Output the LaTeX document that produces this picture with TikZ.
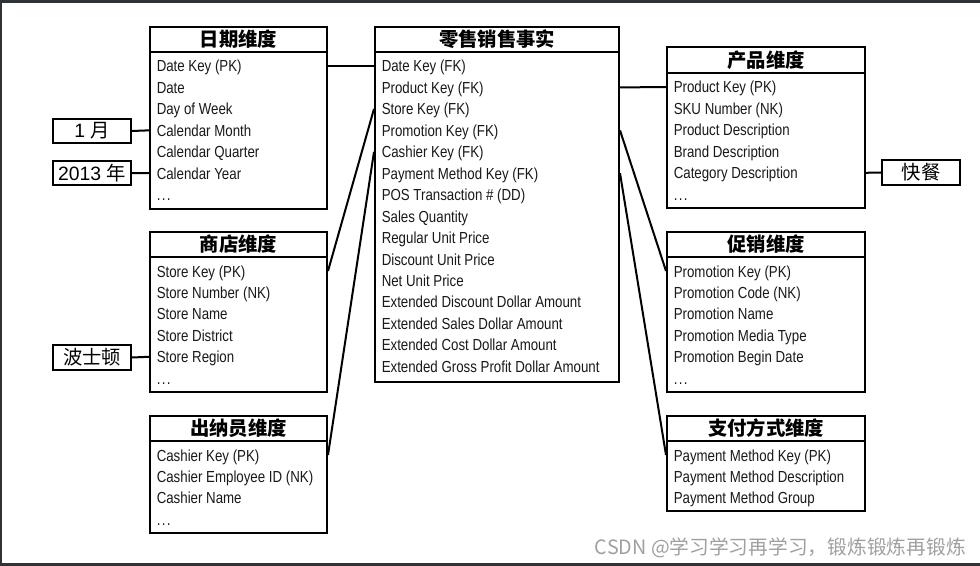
\documentclass[tikz,border=0pt]{standalone}
\usepackage{fontspec}
\setmainfont{Liberation Sans}
\newfontfamily\rowfam[FakeStretch=0.83]{Liberation Sans}
\newfontfamily\cjk{Noto Sans CJK SC}
\definecolor{framecol}{RGB}{47,51,56}
\definecolor{wmcol}{RGB}{160,160,160}
\newcommand\mytbl[8]{%
  \node[tbox, ttl, minimum width={(#3-#2)*0.75pt}, minimum height={(#5-#4)*0.75pt}] (#1-t) at (#2,#4) {#7};
  \node[tbox, minimum width={(#3-#2)*0.75pt}, minimum height={(#6-#5)*0.75pt}] (#1) at (#2,#5) {};
  \foreach \r [count=\i] in {#8} {
    \node[rowtxt] (#1-r\i) at ({#2+7.5},{#5+21+(\i-1)*21.45}) {\r};
    \coordinate (#1-c\i) at ({#2},{#5+15+(\i-1)*21.45});
  }%
}
\newcommand\dts{.\kern1pt.\kern1pt.}
\begin{document}
\begin{tikzpicture}[x=0.75pt,y=-0.75pt,
  tbox/.style={draw, line width=1.5pt, inner sep=0pt, anchor=north west},
  rowtxt/.style={anchor=base west, inner sep=0pt, text=black!90, font=\rowfam\fontsize{12}{14}\selectfont},
  ttl/.style={font=\cjk\bfseries\fontsize{14.5}{16}\selectfont},
  lbl/.style={draw, line width=1.5pt, inner sep=0pt, minimum width=58.5pt, minimum height=18.5pt, font=\fontsize{14.5}{16}\selectfont},
  conn/.style={line width=1.5pt},
  wm/.style={text=wmcol, inner sep=0pt, font=\cjk\fontsize{14.8}{16}\selectfont}]
\useasboundingbox (0,0) rectangle (980,566);
\fill[framecol] (0,0) rectangle (980,566);
\fill[white] (2,3) rectangle (980,563);

\mytbl{date}{149}{326}{26}{51}{208}{日期维度}{Date Key (PK),Date,Day of Week,Calendar Month,Calendar Quarter,Calendar Year,\dts}
\mytbl{store}{149}{326}{231}{256}{391}{商店维度}{Store Key (PK),Store Number (NK),Store Name,Store District,Store Region,\dts}
\mytbl{cashier}{149}{326}{415}{440}{532}{出纳员维度}{Cashier Key (PK),Cashier Employee ID (NK),Cashier Name,\dts}
\mytbl{fact}{374}{618}{26}{51}{381}{零售销售事实}{Date Key (FK),Product Key (FK),Store Key (FK),Promotion Key (FK),Cashier Key (FK),Payment Method Key (FK),POS Transaction \# (DD),Sales Quantity,Regular Unit Price,Discount Unit Price,Net Unit Price,Extended Discount Dollar Amount,Extended Sales Dollar Amount,Extended Cost Dollar Amount,Extended Gross Profit Dollar Amount}
\mytbl{product}{666}{864}{46}{72}{207}{产品维度}{Product Key (PK),SKU Number (NK),Product Description,Brand Description,Category Description,\dts}
\mytbl{promo}{666}{864}{231}{256}{391}{促销维度}{Promotion Key (PK),Promotion Code (NK),Promotion Name,Promotion Media Type,Promotion Begin Date,\dts}
\mytbl{pay}{666}{864}{415}{440}{510}{支付方式维度}{Payment Method Key (PK),Payment Method Description,Payment Method Group}

\node[lbl] (month) at (92,131) {1 {\cjk 月}};
\node[lbl] (year) at (92,173) {2013 {\cjk 年}};
\node[lbl] (boston) at (92,357.5) {\cjk 波士顿};
\node[lbl] (fast) at (921,172.5) {\cjk 快餐};

\draw[conn] (date.east |- date-c1) -- (fact.west |- fact-c1);
\draw[conn] (fact.west |- fact-c3) -- (store.east |- store-c1);
\draw[conn] (fact.west |- fact-c5) -- (cashier.east |- cashier-c1);
\draw[conn] (fact.east |- fact-c2) -- (product.west |- product-c1);
\draw[conn] (fact.east |- fact-c4) -- (promo.west |- promo-c1);
\draw[conn] (fact.east |- fact-c6) -- (pay.west |- pay-c1);
\draw[conn] (month.east) -- (date.west |- date-c4);
\draw[conn] (year.east) -- (date.west |- date-c6);
\draw[conn] (boston.east) -- (store.west |- store-c5);
\draw[conn] (product.east |- product-c5) -- (fast.west);

\node[wm, anchor=east] (mark) at (966,548) {CSDN @学习学习再学习，锻炼锻炼再锻炼};
\end{tikzpicture}
\end{document}
